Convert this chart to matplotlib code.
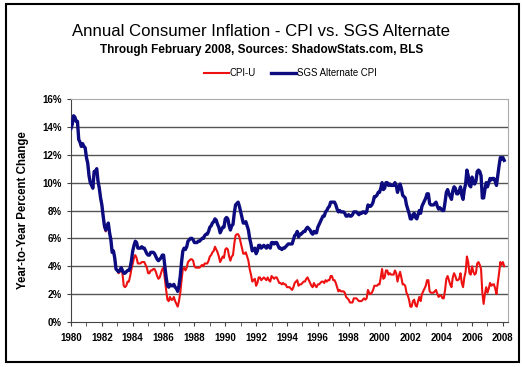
import numpy as np
import matplotlib
matplotlib.use("Agg")
import matplotlib.pyplot as plt
from matplotlib.patches import Rectangle
from matplotlib.ticker import MultipleLocator, FuncFormatter

plt.rcParams['font.family'] = ['Liberation Sans', 'DejaVu Sans']

# monthly year-to-year change (%), Jan 1980 .. Feb 2008
cpi_u = [
    13.9, 14.2, 14.8, 14.7, 14.4, 14.4, 13.1, 12.9, 12.6, 12.8, 12.6, 12.5,  # 1980
    11.8, 11.4, 10.5, 10.0, 9.8, 9.6, 10.8, 10.8, 11.0, 10.1, 9.6, 8.9,      # 1981
    8.4, 7.6, 6.8, 6.5, 6.7, 7.1, 6.4, 5.9, 5.0, 5.1, 4.6, 3.8,              # 1982
    3.7, 3.5, 3.6, 3.9, 3.5, 2.6, 2.5, 2.6, 2.9, 2.9, 3.3, 3.8,              # 1983
    4.2, 4.6, 4.8, 4.6, 4.2, 4.2, 4.2, 4.3, 4.3, 4.3, 4.1, 3.9,              # 1984
    3.5, 3.5, 3.7, 3.7, 3.8, 3.8, 3.6, 3.3, 3.1, 3.2, 3.5, 3.8,              # 1985
    3.9, 3.1, 2.3, 1.6, 1.5, 1.8, 1.6, 1.6, 1.8, 1.5, 1.3, 1.1,              # 1986
    1.5, 2.1, 3.0, 3.8, 3.9, 3.7, 3.9, 4.3, 4.4, 4.5, 4.5, 4.4,              # 1987
    4.0, 3.9, 3.9, 3.9, 3.9, 4.0, 4.1, 4.0, 4.2, 4.2, 4.2, 4.4,              # 1988
    4.7, 4.8, 5.0, 5.1, 5.4, 5.2, 5.0, 4.7, 4.3, 4.5, 4.7, 4.6,              # 1989
    5.2, 5.3, 5.2, 4.7, 4.4, 4.7, 4.8, 5.6, 6.2, 6.3, 6.3, 6.1,              # 1990
    5.7, 5.3, 4.9, 4.9, 5.0, 4.7, 4.4, 3.8, 3.4, 2.9, 3.0, 3.1,              # 1991
    2.6, 2.8, 3.2, 3.2, 3.0, 3.1, 3.2, 3.1, 3.0, 3.2, 3.0, 2.9,              # 1992
    3.3, 3.2, 3.1, 3.2, 3.2, 3.0, 2.8, 2.8, 2.7, 2.8, 2.7, 2.7,              # 1993
    2.5, 2.5, 2.5, 2.4, 2.3, 2.5, 2.8, 2.9, 3.0, 2.6, 2.7, 2.7,              # 1994
    2.8, 2.9, 2.9, 3.1, 3.2, 3.0, 2.8, 2.6, 2.5, 2.8, 2.6, 2.5,              # 1995
    2.7, 2.7, 2.8, 2.9, 2.9, 2.8, 3.0, 2.9, 3.0, 3.0, 3.3, 3.3,              # 1996
    3.0, 3.0, 2.8, 2.5, 2.2, 2.3, 2.2, 2.2, 2.2, 2.1, 1.8, 1.7,              # 1997
    1.6, 1.4, 1.4, 1.4, 1.7, 1.7, 1.7, 1.6, 1.5, 1.5, 1.5, 1.6,              # 1998
    1.7, 1.6, 1.7, 2.3, 2.1, 2.0, 2.1, 2.3, 2.6, 2.6, 2.6, 2.7,              # 1999
    2.7, 3.2, 3.8, 3.1, 3.2, 3.7, 3.7, 3.4, 3.5, 3.4, 3.4, 3.4,              # 2000
    3.7, 3.5, 2.9, 3.3, 3.6, 3.2, 2.7, 2.7, 2.6, 2.1, 1.9, 1.6,              # 2001
    1.1, 1.1, 1.5, 1.6, 1.2, 1.1, 1.5, 1.8, 1.5, 2.0, 2.2, 2.4,              # 2002
    2.6, 3.0, 3.0, 2.2, 2.1, 2.1, 2.1, 2.2, 2.3, 2.0, 1.8, 1.9,              # 2003
    1.9, 1.7, 1.7, 2.3, 3.1, 3.3, 3.0, 2.7, 2.5, 3.2, 3.5, 3.3,              # 2004
    3.0, 3.0, 3.1, 3.5, 2.8, 2.5, 3.2, 3.6, 4.7, 4.3, 3.5, 3.4,              # 2005
    4.0, 3.6, 3.4, 3.5, 4.2, 4.3, 4.1, 3.8, 2.1, 1.3, 2.0, 2.5,              # 2006
    2.1, 2.4, 2.8, 2.6, 2.7, 2.7, 2.4, 2.0, 2.8, 3.5, 4.3, 4.1,              # 2007
    4.3, 4.0,                                                                # 2008
]

sgs_alt = [
    13.9, 14.2, 14.8, 14.7, 14.4, 14.4, 13.1, 12.9, 12.6, 12.8, 12.6, 12.5,  # 1980
    11.8, 11.4, 10.5, 10.0, 9.8, 9.6, 10.8, 10.8, 11.0, 10.1, 9.6, 8.9,      # 1981
    8.4, 7.6, 6.9, 6.6, 6.8, 7.1, 6.4, 5.9, 5.0, 5.1, 4.6, 3.8,              # 1982
    3.7, 3.6, 3.7, 3.9, 3.7, 3.5, 3.5, 3.6, 3.7, 3.7, 3.9, 4.4,              # 1983
    5.1, 5.5, 5.8, 5.7, 5.3, 5.3, 5.3, 5.4, 5.3, 5.3, 5.1, 4.9,              # 1984
    4.8, 4.8, 5.0, 5.0, 5.0, 4.9, 4.7, 4.5, 4.4, 4.5, 4.6, 4.8,              # 1985
    4.8, 4.0, 3.2, 2.6, 2.5, 2.7, 2.6, 2.6, 2.7, 2.5, 2.4, 2.2,              # 1986
    2.6, 3.3, 4.3, 5.1, 5.3, 5.2, 5.4, 5.8, 5.9, 6.0, 6.0, 5.9,              # 1987
    5.7, 5.7, 5.7, 5.8, 5.8, 5.9, 6.0, 6.0, 6.2, 6.3, 6.3, 6.5,              # 1988
    6.8, 6.9, 7.1, 7.2, 7.4, 7.3, 7.0, 6.8, 6.4, 6.6, 6.8, 6.8,              # 1989
    7.4, 7.5, 7.4, 6.9, 6.6, 6.9, 7.0, 7.8, 8.4, 8.5, 8.6, 8.3,              # 1990
    7.9, 7.5, 7.1, 7.1, 7.2, 6.9, 6.6, 6.0, 5.6, 5.1, 5.2, 5.3,              # 1991
    4.9, 5.1, 5.5, 5.5, 5.3, 5.4, 5.5, 5.4, 5.3, 5.5, 5.4, 5.3,              # 1992
    5.7, 5.7, 5.6, 5.7, 5.7, 5.5, 5.3, 5.3, 5.2, 5.3, 5.3, 5.4,              # 1993
    5.5, 5.6, 5.6, 5.6, 5.6, 5.9, 6.2, 6.3, 6.5, 6.1, 6.3, 6.3,              # 1994
    6.4, 6.5, 6.5, 6.7, 6.8, 6.7, 6.6, 6.4, 6.3, 6.5, 6.4, 6.4,              # 1995
    6.8, 7.0, 7.2, 7.4, 7.6, 7.6, 7.9, 8.0, 8.2, 8.3, 8.6, 8.6,              # 1996
    8.6, 8.6, 8.4, 8.1, 7.9, 8.0, 7.9, 7.9, 7.9, 7.8, 7.6, 7.6,              # 1997
    7.7, 7.6, 7.6, 7.7, 7.9, 7.9, 7.9, 7.8, 7.7, 7.8, 7.8, 7.9,              # 1998
    7.9, 7.8, 7.9, 8.4, 8.3, 8.3, 8.4, 8.6, 9.0, 9.0, 9.1, 9.3,              # 1999
    9.3, 9.6, 10.0, 9.5, 9.6, 10.0, 10.0, 9.8, 9.9, 9.8, 9.8, 9.8,           # 2000
    10.0, 9.8, 9.3, 9.6, 9.9, 9.6, 9.1, 9.0, 8.9, 8.4, 8.1, 7.8,             # 2001
    7.4, 7.4, 7.7, 7.8, 7.5, 7.4, 7.7, 8.0, 7.8, 8.3, 8.5, 8.7,              # 2002
    8.9, 9.2, 9.2, 8.5, 8.4, 8.4, 8.4, 8.5, 8.6, 8.3, 8.1, 8.2,              # 2003
    8.1, 8.0, 8.0, 8.6, 9.3, 9.5, 9.2, 9.0, 8.8, 9.4, 9.7, 9.6,              # 2004
    9.2, 9.2, 9.4, 9.7, 9.1, 8.8, 9.5, 9.9, 10.9, 10.5, 9.8, 9.7,            # 2005
    10.4, 10.0, 9.9, 10.1, 10.8, 10.9, 10.8, 10.5, 8.9, 8.9, 9.5, 10.0,      # 2006
    9.7, 10.0, 10.3, 10.2, 10.3, 10.3, 10.1, 9.8, 10.5, 11.2, 11.8, 11.7,    # 2007
    11.8, 11.6,                                                              # 2008
]

start_year = 1980
months = start_year + np.arange(len(cpi_u)) / 12.0
year_ticks = list(range(1980, 2009, 2))
pct_ticks = list(range(0, 17, 2))

fig = plt.figure(figsize=(5.23, 3.67), dpi=100)
ax = fig.add_axes([0.1358, 0.1226, 0.8355, 0.6076])

# outer frame
fig.patches.append(Rectangle((0.012, 0.014), 0.98, 0.974, transform=fig.transFigure,
                             fill=False, edgecolor='black', linewidth=1.5))

for y in pct_ticks[1:-1]:
    ax.axhline(y, color='#555555', linewidth=1.0, zorder=1)

ax.plot(months, cpi_u, color='#ee1111', linewidth=1.5, label='CPI-U', zorder=3)
ax.plot(months, sgs_alt, color='#0c0c80', linewidth=2.4, label='SGS Alternate CPI', zorder=4)

ax.set_xlim(1980, 2008.33)
ax.set_ylim(0, 16)
ax.set_xticks(year_ticks)
ax.xaxis.set_minor_locator(MultipleLocator(1))
ax.set_yticks(pct_ticks)
ax.yaxis.set_major_formatter(FuncFormatter(lambda v, p: f"{int(v)}%"))

for s in ['top', 'right']:
    ax.spines[s].set_color('#aaaaaa')
for s in ['left', 'bottom']:
    ax.spines[s].set_color('#444444')
ax.tick_params(axis='both', which='both', direction='out', length=3, color='#444444',
               labelsize=7)
for lbl in ax.get_xticklabels() + ax.get_yticklabels():
    lbl.set_fontweight('bold')
ax.tick_params(axis='x', pad=5)

ax.set_ylabel('Year-to-Year Percent Change', fontsize=8.3, fontweight='bold', labelpad=10)

fig.text(0.5, 0.913, 'Annual Consumer Inflation - CPI vs. SGS Alternate',
         ha='center', va='center', fontsize=12.1)
fig.text(0.5, 0.864, 'Through February 2008, Sources: ShadowStats.com, BLS',
         ha='center', va='center', fontsize=8.5, fontweight='bold')

fig.legend(loc='center', bbox_to_anchor=(0.555, 0.80), ncol=2, frameon=False,
           fontsize=6.9, handlelength=2.6, handletextpad=0.1, columnspacing=1.6)

fig.savefig('out.png', dpi=100)
